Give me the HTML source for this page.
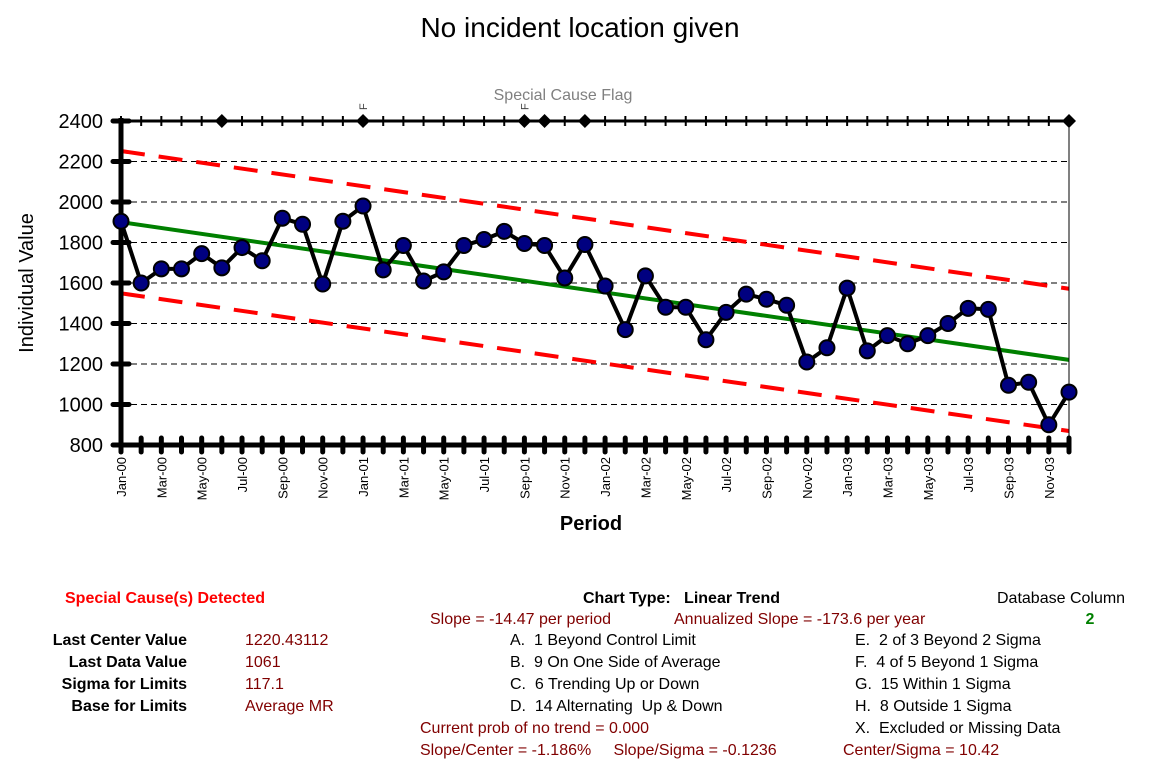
<!DOCTYPE html>
<html><head><meta charset="utf-8"><style>
body{margin:0;background:#fff;width:1159px;height:774px;overflow:hidden;font-family:"Liberation Sans",Arial,sans-serif}
svg text{font-family:"Liberation Sans",Arial,sans-serif;white-space:pre}
</style></head><body>
<svg id="c" width="1159" height="774" xmlns="http://www.w3.org/2000/svg">
<text x="580" y="37" font-size="28" text-anchor="middle">No incident location given</text>
<text x="563" y="100" font-size="16" fill="#808080" text-anchor="middle">Special Cause Flag</text>
<text x="591" y="530" font-size="20" font-weight="bold" text-anchor="middle">Period</text>
<text transform="translate(33,283) rotate(-90)" font-size="20" text-anchor="middle">Individual Value</text>
<g id="grid"></g><g id="lim"></g><g id="axes"></g><g id="series"></g><g id="flags"></g><g id="xl"></g><g id="yl"></g>
<g font-size="16">
<text x="65" y="603" fill="#ff0000" font-weight="bold">Special Cause(s) Detected</text>
<g font-weight="bold" text-anchor="end"><text x="187" y="645">Last Center Value</text><text x="187" y="667">Last Data Value</text><text x="187" y="689">Sigma for Limits</text><text x="187" y="711">Base for Limits</text></g>
<g fill="#800000"><text x="245" y="645">1220.43112</text><text x="245" y="667">1061</text><text x="245" y="689">117.1</text><text x="245" y="711">Average MR</text></g>
<text x="583" y="603" font-weight="bold">Chart Type:   Linear Trend</text>
<text x="430" y="624" fill="#800000">Slope = -14.47 per period</text>
<text x="674" y="624" fill="#800000">Annualized Slope = -173.6 per year</text>
<text x="997" y="603">Database Column</text>
<text x="1090" y="624" fill="#008000" font-weight="bold" text-anchor="middle">2</text>
<text x="510" y="645">A.  1 Beyond Control Limit</text>
<text x="510" y="667">B.  9 On One Side of Average</text>
<text x="510" y="689">C.  6 Trending Up or Down</text>
<text x="510" y="711">D.  14 Alternating  Up &amp; Down</text>
<text x="855" y="645">E.  2 of 3 Beyond 2 Sigma</text>
<text x="855" y="667">F.  4 of 5 Beyond 1 Sigma</text>
<text x="855" y="689">G.  15 Within 1 Sigma</text>
<text x="855" y="711">H.  8 Outside 1 Sigma</text>
<text x="855" y="733">X.  Excluded or Missing Data</text>
<text x="420" y="733" fill="#800000">Current prob of no trend = 0.000</text>
<text x="420" y="755" fill="#800000">Slope/Center = -1.186%     Slope/Sigma = -0.1236</text>
<text x="843" y="755" fill="#800000">Center/Sigma = 10.42</text>
</g>
</svg>
<script>
const months=["Jan","Feb","Mar","Apr","May","Jun","Jul","Aug","Sep","Oct","Nov","Dec"];
const values=[1905,1600,1670,1670,1745,1675,1775,1710,1920,1890,1595,1905,1980,1665,1785,1610,1655,1785,1815,1855,1795,1785,1625,1790,1585,1370,1635,1480,1480,1320,1455,1545,1520,1490,1210,1280,1575,1265,1340,1300,1340,1400,1475,1470,1095,1110,900,1061];
const centerStart=1900.4;
const slope=-14.47;
const sigma=117.1;
const flagIdx=[5,12,20,21,23,47];
const fLabelIdx=[12,20];
const yTicks=[800,1000,1200,1400,1600,1800,2000,2200,2400];
const NS="http://www.w3.org/2000/svg";
const X0=121,X1=1069,Y0=445,Y1=121;
const n=values.length;
const xs=i=>X0+i*(X1-X0)/(n-1);
const ys=v=>Y0-(v-800)*(Y0-Y1)/1600;
function mk(p,t,a){const e=document.createElementNS(NS,t);for(const k in a)e.setAttribute(k,a[k]);document.getElementById(p).appendChild(e);return e;}
yTicks.forEach(t=>{if(t>800&&t<2400){const l=mk('grid','line',{x1:X0,x2:X1,y1:ys(t),y2:ys(t),stroke:'#000','stroke-dasharray':'6,4','stroke-width':1});

}
const tx=mk('yl','text',{x:103,y:ys(t)+7,'font-size':20,'text-anchor':'end'});tx.textContent=t;


mk('axes','line',{x1:X0-8,x2:X0+8,y1:ys(t),y2:ys(t),stroke:'#000','stroke-width':5,'stroke-linecap':'round'});});
const cl=i=>centerStart+slope*i;
const ln=(f,col,dash,nm)=>{const l=mk('lim','line',{x1:xs(0),y1:ys(f(0)),x2:xs(n-1),y2:ys(f(n-1)),stroke:col,'stroke-width':4});if(dash)l.setAttribute('stroke-dasharray',dash);

};
ln(i=>cl(i)+3*sigma,'#ff0000','24,14','upper-control-limit');
ln(i=>cl(i)-3*sigma,'#ff0000','24,14','lower-control-limit');
ln(cl,'#008000',null,'center-trend-line');
mk('axes','line',{x1:X1,x2:X1,y1:Y1,y2:Y0,stroke:'#000','stroke-width':1});
mk('axes','line',{x1:X0,x2:X0,y1:Y1-3,y2:Y0+3,stroke:'#000','stroke-width':5});
mk('axes','line',{x1:X0,x2:X1,y1:Y0,y2:Y0,stroke:'#000','stroke-width':5});
mk('axes','line',{x1:X0,x2:X1,y1:Y1,y2:Y1,stroke:'#000','stroke-width':3});
for(let i=0;i<n;i++){mk('axes','line',{x1:xs(i),x2:xs(i),y1:Y0-7,y2:Y0+7,stroke:'#000','stroke-width':5,'stroke-linecap':'round'});
mk('axes','line',{x1:xs(i),x2:xs(i),y1:Y1-5,y2:Y1+5,stroke:'#000','stroke-width':2});
if(i%2==0){const t=mk('xl','text',{transform:`translate(${xs(i)+5},${Y0+12}) rotate(-90)`,'font-size':13,'text-anchor':'end'});
t.textContent=months[i%12]+'-'+String(i/12|0).padStart(2,'0');

}}
mk('series','polyline',{points:values.map((v,i)=>xs(i)+','+ys(v)).join(' '),fill:'none',stroke:'#000','stroke-width':4});
values.forEach((v,i)=>{const c=mk('series','circle',{cx:xs(i),cy:ys(v),r:7.5,fill:'#000080',stroke:'#000','stroke-width':2});

});
flagIdx.forEach(i=>{const d=mk('flags','polygon',{points:`${xs(i)},${Y1-7} ${xs(i)+7},${Y1} ${xs(i)},${Y1+7} ${xs(i)-7},${Y1}`,fill:'#000'});

});
fLabelIdx.forEach(i=>{const t=mk('flags','text',{transform:`translate(${xs(i)+4},${Y1-11}) rotate(-90)`,'font-size':11,fill:'#444'});t.textContent='F';

});
</script>
</body></html>
